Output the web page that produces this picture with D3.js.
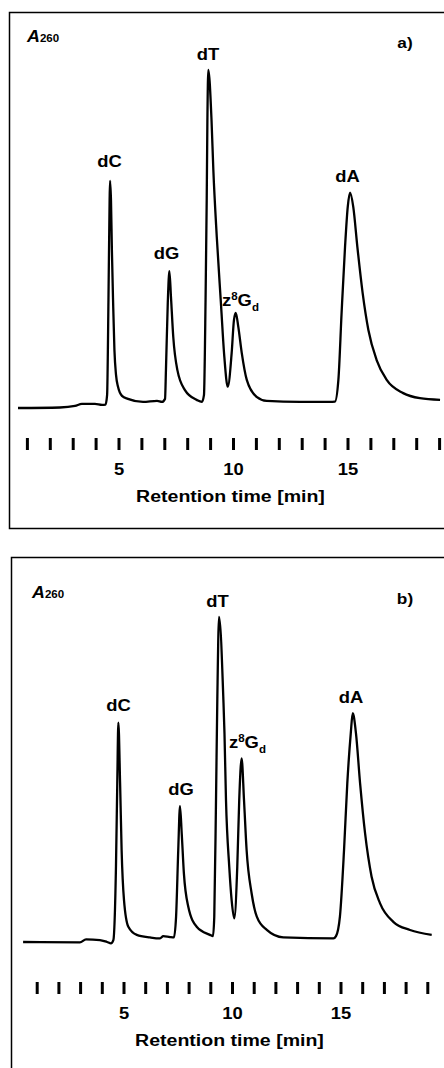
<!DOCTYPE html>
<html>
<head>
<meta charset="utf-8">
<script src="https://cdn.jsdelivr.net/npm/d3@7"></script>
<style>
  body { margin: 0; background: #fff; }
  text { font-family: "Liberation Sans", Arial, sans-serif; font-weight: bold; fill: #000; }
</style>
</head>
<body>
<svg id="chart" width="444" height="1068"></svg>
<script>
// retention time [min] and absorbance (dT peak = 100)
var timeA = [0.59, 2.42, 3.08, 3.38, 3.95, 4.26, 4.41, 4.48, 4.54, 4.59, 4.61, 4.65, 4.69, 4.74, 4.80, 4.87, 4.96, 5.13, 5.39, 6.05, 6.66, 6.88, 7.01, 7.05, 7.13, 7.20, 7.27, 7.37, 7.55, 7.88, 8.39, 8.62, 8.71, 8.78, 8.83, 8.86, 8.90, 9.04, 9.12, 9.27, 9.45, 9.60, 9.75, 9.92, 10.02, 10.10, 10.21, 10.36, 10.58, 11.01, 11.45, 12.90, 14.21, 14.43, 14.58, 14.72, 14.87, 14.99, 15.09, 15.23, 15.41, 15.64, 15.89, 16.25, 16.69, 17.41, 18.14, 19.02]
var absA  = [0, 0.15, 0.6, 1.2, 1.2, 0.9, 1.0, 3.8, 32.0, 61.5, 67.2, 61.5, 46.7, 32.0, 17.2, 9.8, 6.2, 3.6, 2.7, 1.8, 2.1, 1.8, 2.7, 11.2, 31.1, 40.5, 32.8, 21.0, 11.2, 5.3, 2.4, 1.8, 3.8, 32.0, 61.5, 85.2, 100, 85.2, 70.4, 50.6, 31.1, 15.1, 6.3, 16.3, 26.0, 28.1, 24.0, 16.3, 8.3, 3.3, 2.1, 1.8, 1.8, 1.9, 8.3, 28.1, 47.6, 59.6, 63.7, 59.5, 47.6, 34.0, 23.1, 14.2, 8.3, 4.4, 2.9, 2.4]

var timeB = [0.35, 2.97, 3.25, 3.89, 4.22, 4.40, 4.51, 4.63, 4.69, 4.74, 4.82, 4.89, 5.00, 5.20, 5.59, 6.20, 6.66, 6.81, 7.12, 7.30, 7.40, 7.50, 7.58, 7.66, 7.76, 7.96, 8.35, 8.96, 9.10, 9.16, 9.24, 9.30, 9.38, 9.58, 9.63, 9.70, 9.85, 9.96, 10.08, 10.22, 10.31, 10.42, 10.53, 10.65, 10.88, 11.12, 11.58, 12.34, 14.65, 14.77, 14.95, 15.14, 15.29, 15.45, 15.54, 15.69, 15.88, 16.11, 16.41, 16.80, 17.41, 18.18, 19.18]
var absB  = [0, -0.1, 0.8, 0.6, 0, -0.4, 0.6, 23.2, 48.9, 67.5, 48.9, 28.3, 12.9, 4.7, 2.2, 1.4, 1.1, 1.8, 1.5, 1.4, 7.8, 28.3, 41.8, 33.4, 21.1, 10.9, 4.7, 2.2, 1.8, 7.8, 43.7, 74.5, 100, 74.5, 64.3, 43.7, 23.2, 12.9, 7.3, 23.2, 43.7, 56.5, 43.7, 28.3, 15.0, 7.8, 3.7, 1.4, 1.1, 1.8, 7.8, 28.3, 48.8, 64.2, 70.4, 64.2, 48.8, 33.4, 20.1, 11.9, 6.2, 3.7, 2.2]

var peakNames = ["dC", "dG", "dT", "z8Gd", "dA"]
var tickMinutes = d3.range(1, 20)
var tickLabels = [5, 10, 15]

var svg = d3.select("#chart")
var sx = 1.15  // the original lettering is slightly stretched sideways

function label(g, x, y, txt, size, anchor) {
  return g.append("text")
    .attr("transform", "translate(" + x + "," + y + ") scale(" + sx + ",1)")
    .attr("text-anchor", anchor || "middle")
    .style("font-size", size + "px")
    .text(txt)
}

function panel(cfg) {
  var g = svg.append("g")
  var x = d3.scaleLinear().domain([0, 19]).range([cfg.x0, cfg.x0 + 19 * cfg.pxMin])
  var y = d3.scaleLinear().domain([0, 100]).range([cfg.base, cfg.top])

  // frame
  g.append("rect")
    .attr("x", cfg.frame[0]).attr("y", cfg.frame[1])
    .attr("width", cfg.frame[2]).attr("height", cfg.frame[3])
    .attr("fill", "none").attr("stroke", "#000").attr("stroke-width", 1.5)

  // trace
  var pts = d3.zip(cfg.time, cfg.abs)
  var line = d3.line()
    .x(function (d) { return x(d[0]) })
    .y(function (d) { return y(d[1]) })
    .curve(d3.curveMonotoneX)
  g.append("path").datum(pts)
    .attr("d", line)
    .attr("fill", "none").attr("stroke", "#000")
    .attr("stroke-width", 2.3).attr("stroke-linejoin", "round")

  // tick bars (no axis line in the original)
  g.selectAll(".tk").data(tickMinutes).enter().append("line")
    .attr("x1", function (d) { return x(d) }).attr("x2", function (d) { return x(d) })
    .attr("y1", cfg.tickY).attr("y2", cfg.tickY + 12)
    .attr("stroke", "#000").attr("stroke-width", 3)

  tickLabels.forEach(function (v) { label(g, x(v), cfg.tickY + 37, v, 16) })
  label(g, x(10) - 3, cfg.tickY + 64, "Retention time [min]", 17)

  // A260 and panel letter
  var a = g.append("text")
    .attr("transform", "translate(" + cfg.aPos[0] + "," + cfg.aPos[1] + ") scale(1.05,1)")
  a.append("tspan").style("font-size", "17px").style("font-style", "italic").text("A")
  a.append("tspan").style("font-size", "11px").text("260")
  label(g, 405, cfg.aPos[1] + 6, cfg.letter, 15)

  // peak names
  cfg.labels.forEach(function (l, i) {
    var name = peakNames[i]
    if (name === "z8Gd") {
      var t = g.append("text")
        .attr("transform", "translate(" + l[0] + "," + l[1] + ") scale(" + sx + ",1)")
        .style("font-size", "16px")
      t.append("tspan").text("z")
      t.append("tspan").attr("dy", -6).style("font-size", "10px").text("8")
      t.append("tspan").attr("dy", 6).text("G")
      t.append("tspan").attr("dy", 5).style("font-size", "10px").text("d")
    } else {
      label(g, l[0], l[1], name, 16)
    }
  })
}

panel({
  time: timeA, abs: absA, x0: 4.5, pxMin: 22.9, base: 408, top: 70,
  frame: [9.5, 12.5, 445, 516], tickY: 438, aPos: [27, 42], letter: "a)",
  labels: [[109.5, 167], [166.5, 259], [208, 60], [222, 306], [347.5, 182]]
})

panel({
  time: timeB, abs: absB, x0: 15.5, pxMin: 21.7, base: 942, top: 617,
  frame: [11.5, 557.5, 445, 520], tickY: 982, aPos: [32, 598], letter: "b)",
  labels: [[118.5, 711], [181, 795], [217.5, 607], [229, 748], [351, 703]]
})
</script>
</body>
</html>
